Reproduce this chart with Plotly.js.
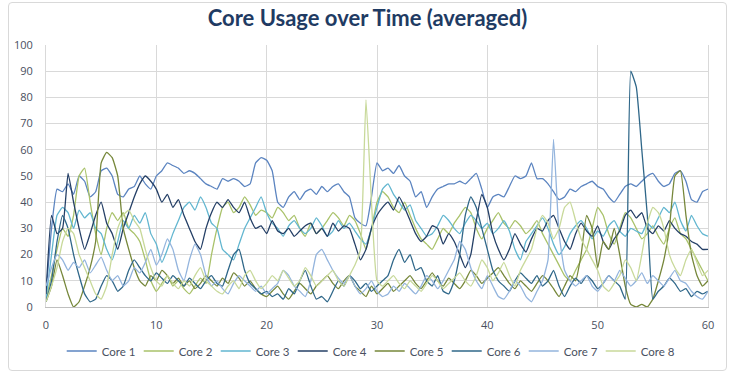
<!DOCTYPE html>
<html>
<head>
<meta charset="utf-8">
<script src="https://cdn.plot.ly/plotly-3.0.1.min.js"></script>
<style>
  html, body { margin: 0; padding: 0; background: #fff; }
  #wrap { position: relative; width: 735px; height: 376px; }
  #chart { width: 735px; height: 376px; }
  #frame { position: absolute; left: 8px; top: 2px; width: 717px; height: 367px;
           border: 1px solid #d9d9d9; border-radius: 4px; pointer-events: none; }
</style>
</head>
<body>
<div id="wrap"><div id="chart"></div><div id="frame"></div></div>
<script>
// Sample times: every 0.5 s from 0 to 60
const step = 0.5;
const seriesNames = ["Core 1", "Core 2", "Core 3", "Core 4", "Core 5", "Core 6", "Core 7", "Core 8"];
const xTickLabels = ["0", "10", "20", "30", "40", "50", "60"];
const yTickLabels = ["0", "10", "20", "30", "40", "50", "60", "70", "80", "90", "100"];

const core1 = [
  5,30,45,44,47,43,50,48,42,44,
  52,53,50,43,42,45,46,50,47,45,
  50,52,55,54,53,51,52,51,49,47,
  46,45,49,48,49,48,46,47,55,57,
  56,52,40,38,42,44,41,44,45,43,
  46,44,46,47,44,42,34,32,31,42,
  55,52,53,51,54,50,48,42,44,38,
  42,45,46,47,47,48,47,49,51,45,
  38,42,43,42,46,50,49,50,55,49,
  49,47,44,41,42,45,44,46,47,48,
  46,45,42,40,43,46,47,46,48,50,
  51,48,46,47,51,52,48,41,40,44,
  45];
const core2 = [
  3,12,22,30,27,35,50,53,40,28,
  20,30,36,33,36,30,28,25,18,10,
  6,9,12,8,10,7,5,8,11,9,
  20,30,38,40,36,38,42,39,35,37,
  36,34,38,36,33,35,30,27,32,28,
  30,33,36,34,31,35,33,28,22,30,
  40,44,42,38,36,40,35,30,26,24,
  22,26,30,28,32,35,38,36,30,26,
  30,33,36,32,30,33,31,28,30,33,
  28,24,20,16,12,10,14,18,22,30,
  38,35,28,24,30,36,34,30,26,28,
  31,27,24,30,34,28,26,22,18,14,
  10];
const core3 = [
  3,20,35,38,36,30,37,34,36,30,
  28,22,18,25,33,30,35,32,36,28,
  24,17,22,28,33,38,40,37,42,38,
  32,30,22,20,18,24,30,34,38,42,
  36,32,30,27,31,33,30,28,30,34,
  31,27,29,33,30,32,29,26,24,30,
  38,45,47,43,40,37,39,33,30,27,
  28,31,35,33,30,28,32,35,33,30,
  32,28,30,33,29,22,18,25,28,31,
  34,30,24,20,23,28,31,33,30,26,
  29,27,31,33,29,27,30,29,28,32,
  30,34,38,36,40,33,29,35,31,28,
  27];
const core4 = [
  5,35,28,30,51,40,30,22,28,35,
  40,32,28,22,30,36,42,47,50,48,
  45,40,43,38,41,35,30,25,22,30,
  36,40,38,41,38,36,40,34,30,31,
  28,33,29,28,30,27,29,31,32,28,
  30,27,32,29,31,30,24,18,22,30,
  35,38,40,37,42,38,33,28,25,27,
  31,30,24,28,25,20,15,20,33,43,
  38,28,22,18,22,28,24,21,26,30,
  29,33,35,30,25,22,28,32,29,27,
  31,25,22,26,29,35,37,34,36,30,
  28,31,29,33,30,28,27,25,24,22,
  22];
const core5 = [
  2,8,18,12,5,0,2,8,15,25,
  55,59,57,50,30,22,15,10,8,12,
  10,14,12,9,11,8,10,7,9,12,
  10,8,11,9,13,11,8,10,7,5,
  4,6,8,5,3,6,9,7,5,8,
  10,12,9,7,10,12,8,6,4,8,
  5,7,9,6,8,10,12,9,7,10,
  13,10,8,11,9,7,10,14,12,9,
  11,13,15,12,9,7,10,8,6,9,
  12,10,7,4,8,12,10,20,35,30,
  15,25,22,30,20,8,1,0,1,0,
  3,10,18,30,50,52,35,20,12,8,
  10];
const core6 = [
  2,10,25,35,30,20,12,5,2,3,
  8,12,10,6,8,14,18,15,12,10,
  13,11,9,12,10,8,11,9,7,10,
  12,9,8,14,20,22,14,9,7,5,
  6,4,5,3,7,5,10,14,8,3,
  4,2,6,10,8,12,10,7,9,6,
  8,10,12,18,22,17,20,14,15,10,
  8,12,6,5,10,20,35,42,38,30,
  22,14,10,8,6,10,13,11,9,12,
  8,10,14,8,4,8,11,9,12,10,
  7,9,12,10,8,3,90,84,60,35,
  3,6,8,11,9,6,7,4,6,5,
  6];
const core7 = [
  8,15,20,18,14,17,15,18,13,16,
  19,14,10,12,8,10,15,13,17,22,
  16,20,26,22,14,10,18,24,20,12,
  8,10,7,5,9,12,10,8,6,8,
  5,7,9,14,12,8,6,4,10,20,
  22,18,14,11,9,12,8,5,7,10,
  6,4,5,8,6,9,7,5,8,12,
  10,7,10,14,18,25,22,15,10,7,
  12,8,4,3,6,10,8,4,2,6,
  10,18,64,28,14,10,8,10,12,8,
  6,9,12,10,14,11,8,10,13,9,
  12,10,8,11,14,10,9,6,4,3,
  6];
const core8 = [
  2,8,15,25,30,28,20,15,10,5,
  3,8,20,30,35,37,33,30,22,15,
  10,8,12,9,7,10,8,12,15,10,
  8,6,5,8,10,7,12,14,10,7,
  9,12,10,14,11,8,10,15,12,8,
  10,12,14,10,8,12,16,22,79,40,
  10,8,10,12,9,7,10,8,6,9,
  12,10,7,9,11,13,10,8,12,18,
  15,10,13,17,12,8,14,18,22,30,
  35,32,26,30,38,40,33,26,22,18,
  14,8,6,9,12,18,15,10,20,32,
  38,36,30,20,15,12,18,22,17,12,
  14];

const seriesValues = [core1, core2, core3, core4, core5, core6, core7, core8];
const seriesColors = ["#5b84c0", "#a9c26a", "#62b6d0", "#243f66", "#76873a", "#2f6789", "#93b4dd", "#c8d99a"];

const times = core1.map((_, i) => i * step);

const traces = seriesValues.map((vals, k) => ({
  type: "scatter",
  mode: "lines",
  name: seriesNames[k],
  x: times,
  y: vals,
  line: { color: seriesColors[k], width: 1.3, shape: "spline", smoothing: 0.4 }
}));

const layout = {
  width: 735,
  height: 376,
  margin: { l: 46, r: 27, t: 45, b: 69, autoexpand: false },
  paper_bgcolor: "rgba(0,0,0,0)",
  plot_bgcolor: "#ffffff",
  title: {
    text: "<b>Core Usage over Time (averaged)</b>",
    font: { family: "Lato, 'Open Sans', sans-serif", size: 22, color: "#1f3b63" },
    x: 0.5, xanchor: "center", y: 0.952, yanchor: "middle"
  },
  xaxis: {
    range: [0, 60],
    tickvals: xTickLabels.map(Number),
    ticktext: xTickLabels,
    showgrid: true, gridcolor: "#d9d9d9", gridwidth: 1,
    showline: true, linecolor: "#bfbfbf", linewidth: 1,
    zeroline: false,
    ticks: "",
    ticklabelstandoff: 8,
    tickfont: { family: "'Open Sans', sans-serif", size: 11, color: "#4a5060" }
  },
  yaxis: {
    range: [0, 100],
    tickvals: yTickLabels.map(Number),
    ticktext: yTickLabels,
    showgrid: true, gridcolor: "#d9d9d9", gridwidth: 1,
    showline: true, linecolor: "#d9d9d9", linewidth: 1, mirror: true,
    zeroline: false,
    ticks: "",
    ticklabelstandoff: 10,
    tickfont: { family: "'Open Sans', sans-serif", size: 11, color: "#4a5060" }
  },
  showlegend: true,
  legend: {
    orientation: "h",
    x: 0.489, xanchor: "center",
    y: -0.168, yanchor: "middle",
    entrywidth: 32, entrywidthmode: "pixels",
    itemwidth: 30,
    tracegroupgap: 0,
    font: { family: "Lato, 'Open Sans', sans-serif", size: 11.5, color: "#4a5060" },
    bgcolor: "rgba(0,0,0,0)"
  }
};

Plotly.newPlot("chart", traces, layout, { displayModeBar: false, staticPlot: true });
</script>
</body>
</html>
